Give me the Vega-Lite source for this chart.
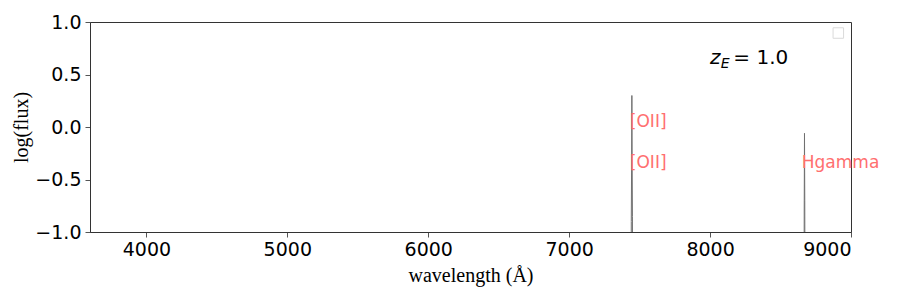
{
  "$schema": "https://vega.github.io/schema/vega-lite/v6.json",
  "width": 761,
  "height": 210,
  "autosize": {"type": "none"},
  "padding": {"left": 90, "top": 22, "right": 46, "bottom": 67},
  "background": "white",
  "config": {
    "view": {"stroke": "#333", "strokeWidth": 1},
    "axis": {
      "grid": false,
      "domainColor": "#333",
      "tickColor": "#555",
      "tickSize": 5,
      "labelFont": "DejaVu Sans",
      "labelFontSize": 19,
      "labelColor": "black",
      "titleFont": "Liberation Serif",
      "titleFontSize": 20,
      "titleFontWeight": "normal",
      "titleColor": "black"
    }
  },
  "datasets": {
    "spec": [
      {"wl": 3600, "flux": -3.0},
      {"wl": 7438, "flux": -3.0},
      {"wl": 7441, "flux": -0.9},
      {"wl": 7443, "flux": -0.4},
      {"wl": 7445, "flux": 0.3},
      {"wl": 7447, "flux": -0.3},
      {"wl": 7449, "flux": -0.85},
      {"wl": 7452, "flux": -3.0},
      {"wl": 8665, "flux": -3.0},
      {"wl": 8668, "flux": -0.8},
      {"wl": 8670, "flux": -0.06},
      {"wl": 8672, "flux": -0.7},
      {"wl": 8675, "flux": -3.0},
      {"wl": 9000, "flux": -3.0}
    ],
    "labels": [
      {"wl": 7445, "y": 0.05, "name": "[OII]"},
      {"wl": 7445, "y": -0.345, "name": "[OII]"},
      {"wl": 8665, "y": -0.345, "name": "Hgamma"}
    ],
    "zlabel": [
      {"wl": 8000, "y": 0.66, "t": "z", "part": "z"},
      {"wl": 8075, "y": 0.6, "t": "E", "part": "sub"},
      {"wl": 8165, "y": 0.66, "t": "= 1.0", "part": "rest"}
    ],
    "legendbox": [{"wl": 8910, "y": 0.895}]
  },
  "layer": [
    {
      "data": {"name": "spec"},
      "mark": {"type": "line", "color": "#707070", "strokeWidth": 1, "clip": true, "interpolate": "linear"},
      "encoding": {
        "x": {
          "field": "wl", "type": "quantitative",
          "scale": {"domain": [3600, 9000], "nice": false, "zero": false},
          "axis": {"values": [4000, 5000, 6000, 7000, 8000, 9000], "format": "d", "title": "wavelength (Å)", "titlePadding": 6, "labelPadding": 3}
        },
        "y": {
          "field": "flux", "type": "quantitative",
          "scale": {"domain": [-1, 1], "nice": false, "zero": false},
          "axis": {"values": [-1, -0.5, 0, 0.5, 1], "format": ".1f", "title": "log(flux)", "titlePadding": 3, "labelPadding": 4}
        }
      }
    },
    {
      "data": {"name": "labels"},
      "mark": {"type": "text", "color": "#ff6f6f", "font": "DejaVu Sans", "fontSize": 17, "align": "left", "baseline": "middle", "dx": -2},
      "encoding": {
        "x": {"field": "wl", "type": "quantitative"},
        "y": {"field": "y", "type": "quantitative"},
        "text": {"field": "name"}
      }
    },
    {
      "data": {"name": "zlabel"},
      "transform": [{"filter": "datum.part == 'z'"}],
      "mark": {"type": "text", "color": "black", "font": "DejaVu Sans", "fontSize": 20, "fontStyle": "italic", "align": "left", "baseline": "middle"},
      "encoding": {
        "x": {"field": "wl", "type": "quantitative"},
        "y": {"field": "y", "type": "quantitative"},
        "text": {"field": "t"}
      }
    },
    {
      "data": {"name": "zlabel"},
      "transform": [{"filter": "datum.part == 'sub'"}],
      "mark": {"type": "text", "color": "black", "font": "DejaVu Sans", "fontSize": 14, "fontStyle": "italic", "align": "left", "baseline": "middle"},
      "encoding": {
        "x": {"field": "wl", "type": "quantitative"},
        "y": {"field": "y", "type": "quantitative"},
        "text": {"field": "t"}
      }
    },
    {
      "data": {"name": "zlabel"},
      "transform": [{"filter": "datum.part == 'rest'"}],
      "mark": {"type": "text", "color": "black", "font": "DejaVu Sans", "fontSize": 20, "align": "left", "baseline": "middle"},
      "encoding": {
        "x": {"field": "wl", "type": "quantitative"},
        "y": {"field": "y", "type": "quantitative"},
        "text": {"field": "t"}
      }
    },
    {
      "data": {"name": "legendbox"},
      "mark": {"type": "square", "size": 110, "filled": false, "stroke": "#cccccc", "strokeWidth": 1},
      "encoding": {
        "x": {"field": "wl", "type": "quantitative"},
        "y": {"field": "y", "type": "quantitative"}
      }
    }
  ]
}
